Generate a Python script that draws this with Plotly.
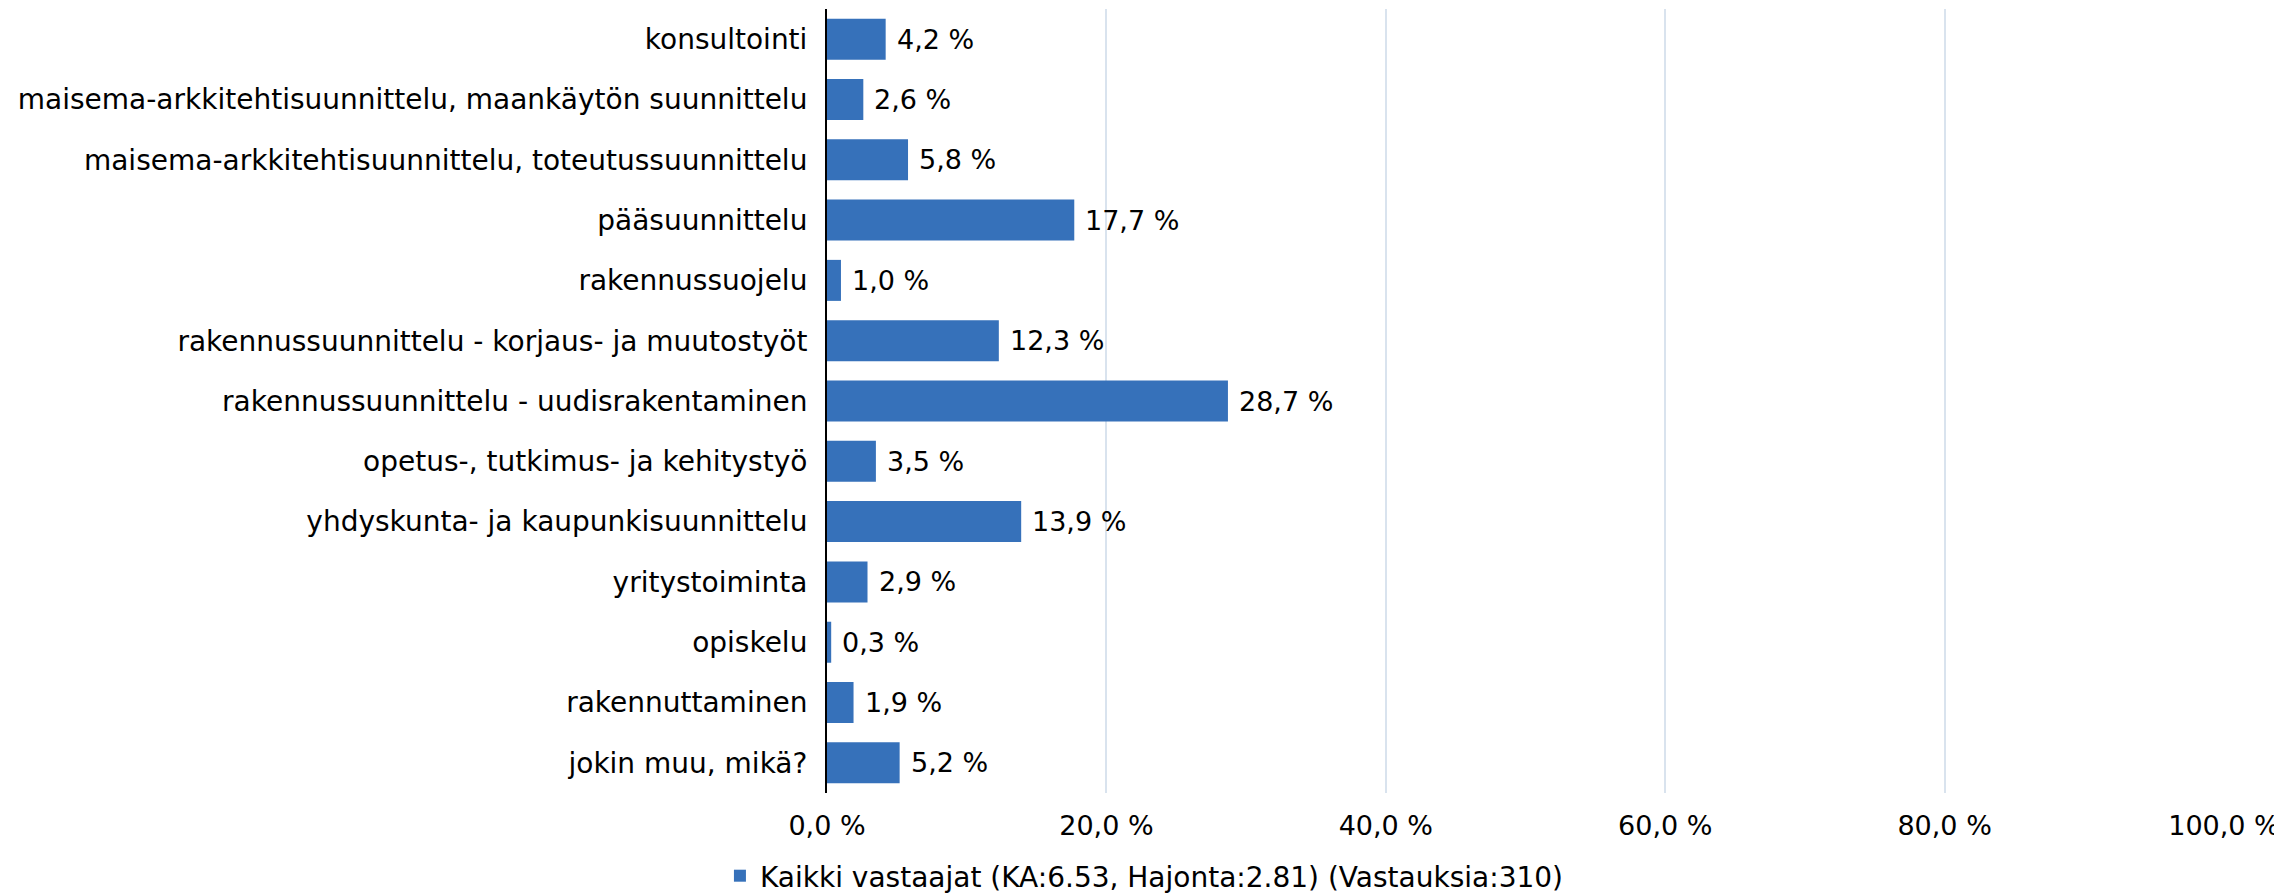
import plotly.graph_objects as go

categories = [
    "konsultointi",
    "maisema-arkkitehtisuunnittelu, maankäytön suunnittelu",
    "maisema-arkkitehtisuunnittelu, toteutussuunnittelu",
    "pääsuunnittelu",
    "rakennussuojelu",
    "rakennussuunnittelu - korjaus- ja muutostyöt",
    "rakennussuunnittelu - uudisrakentaminen",
    "opetus-, tutkimus- ja kehitystyö",
    "yhdyskunta- ja kaupunkisuunnittelu",
    "yritystoiminta",
    "opiskelu",
    "rakennuttaminen",
    "jokin muu, mikä?",
]
values = [4.2, 2.6, 5.8, 17.7, 1.0, 12.3, 28.7, 3.5, 13.9, 2.9, 0.3, 1.9, 5.2]
series_name = "Kaikki vastaajat (KA:6.53, Hajonta:2.81) (Vastauksia:310)"
tick_values = [0, 20, 40, 60, 80, 100]


def pct(v):
    return f"{v:.1f}".replace(".", ",") + " %"


FONT = "DejaVu Sans, Liberation Sans, Arial, sans-serif"
FS = 28
BLUE = "#3671BA"

fig = go.Figure()
fig.add_trace(go.Bar(
    y=categories, x=values, orientation="h", name=series_name,
    marker=dict(color=BLUE, line=dict(width=0)),
    showlegend=True,
))

for c, v in zip(categories, values):
    fig.add_annotation(
        x=v, y=c, xref="x", yref="y", text=pct(v),
        showarrow=False, xanchor="left", xshift=9,
        font=dict(family=FONT, size=27, color="#000000"),
    )

fig.update_layout(
    width=2282, height=893,
    margin=dict(l=819, r=66, t=1, b=108),
    paper_bgcolor="white", plot_bgcolor="white",
    bargap=0.32,
    font=dict(family=FONT, size=FS, color="#000000"),
    showlegend=True,
    legend=dict(
        orientation="h", xref="container", yref="container",
        x=0.498, xanchor="center", y=0.0, yanchor="bottom",
        font=dict(family=FONT, size=28, color="#000000"),
        itemwidth=30, traceorder="normal",
    ),
    xaxis=dict(
        range=[0, 100], tickmode="array", tickvals=tick_values,
        ticktext=[pct(t) for t in tick_values],
        showgrid=True, gridcolor="#D9E3EE", gridwidth=2,
        zeroline=False, showline=False, ticks="", ticklabelstandoff=14,
        tickfont=dict(family=FONT, size=27, color="#000000"),
        fixedrange=True,
    ),
    yaxis=dict(
        autorange="reversed", showline=True, linecolor="#000000", linewidth=2,
        ticks="", showgrid=False, ticklabelstandoff=12,
        tickfont=dict(family=FONT, size=FS, color="#000000"),
    ),
)

fig.write_html("out.html")
